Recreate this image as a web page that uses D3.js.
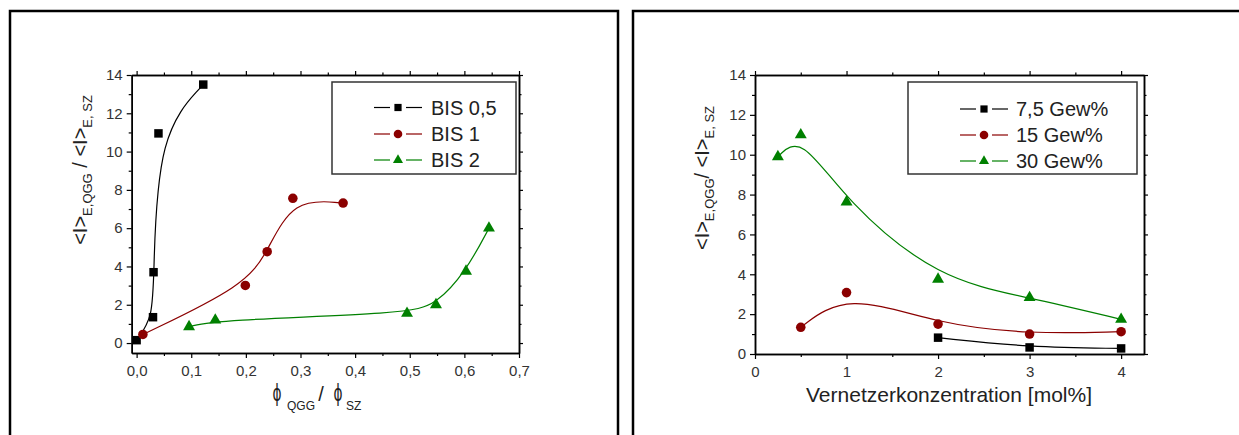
<!DOCTYPE html>
<html>
<head>
<meta charset="utf-8">
<script src="https://cdn.jsdelivr.net/npm/d3@7"></script>
<style>
  body { margin: 0; background: #fff; }
  svg { display: block; font-family: "Liberation Sans", Arial, sans-serif; }
</style>
</head>
<body>
<svg width="1239" height="435"></svg>
<script>
// left panel: <I> ratio vs phi_QGG / phi_SZ
const bis05X = [0.0, 0.03, 0.031, 0.04, 0.122];
const bis05Y = [0.15, 1.35, 3.7, 10.95, 13.5];
const bis1X = [0.0115, 0.199, 0.239, 0.286, 0.378];
const bis1Y = [0.45, 3.01, 4.77, 7.56, 7.31];
const bis2X = [0.096, 0.144, 0.495, 0.548, 0.603, 0.645];
const bis2Y = [0.85, 1.2, 1.55, 2.0, 3.75, 6.0];
const leftNames = ["BIS 0,5", "BIS 1", "BIS 2"];

// right panel: <I> ratio vs Vernetzerkonzentration
const gew75X = [2, 3, 4];
const gew75Y = [0.82, 0.33, 0.28];
const gew15X = [0.5, 1, 2, 3, 4];
const gew15Y = [1.34, 3.08, 1.5, 1.0, 1.12];
const gew30X = [0.25, 0.5, 1, 2, 3, 4];
const gew30Y = [9.9, 11.0, 7.63, 3.75, 2.83, 1.74];
const rightNames = ["7,5 Gew%", "15 Gew%", "30 Gew%"];

// ticks
const leftXTicks = [0, 0.1, 0.2, 0.3, 0.4, 0.5, 0.6, 0.7];
const leftXMinor = [0.05, 0.15, 0.25, 0.35, 0.45, 0.55, 0.65];
const rightXTicks = [0, 1, 2, 3, 4];
const rightXMinor = [0.5, 1.5, 2.5, 3.5];
const yTicks = [0, 2, 4, 6, 8, 10, 12, 14];
const yMinor = [1, 3, 5, 7, 9, 11, 13];

const colors = ["#000000", "#8b0000", "#008000"];
const symbols = [d3.symbolSquare, d3.symbolCircle, d3.symbolTriangle];
const markSize = [72, 72, 62];
const legendSize = [52, 58, 44];

const svg = d3.select("svg");
const font = "'Liberation Sans', Arial, sans-serif";
const comma = (d) => d3.format(".1f")(d).replace(".", ",");

// outer frames
svg.append("rect").attr("x", 10).attr("y", 11).attr("width", 608).attr("height", 460)
  .attr("fill", "none").attr("stroke", "#000").attr("stroke-width", 2.5);
svg.append("rect").attr("x", 633).attr("y", 11).attr("width", 640).attr("height", 460)
  .attr("fill", "none").attr("stroke", "#000").attr("stroke-width", 2.5);

const drawPanel = (p) => {
  const x = p.x, y = p.y;
  const [x0, x1] = x.range();
  const [y0, y1] = y.range();
  const g = svg.append("g");

  const styleAxis = (sel) => {
    sel.attr("font-family", font).attr("font-size", 15);
    sel.select(".domain").attr("stroke", "#000").attr("stroke-width", 1.5);
    sel.selectAll(".tick line").attr("stroke", "#000").attr("stroke-width", 1.2);
    sel.selectAll(".tick text").attr("fill", "#333");
  };

  // bottom axis
  g.append("g").attr("transform", `translate(0,${y0})`)
    .call(d3.axisBottom(x).tickValues(p.xTicks).tickFormat(p.xFormat)
      .tickSize(5).tickPadding(7).tickSizeOuter(0)).call(styleAxis);
  g.append("g").attr("transform", `translate(0,${y0})`)
    .call(d3.axisBottom(x).tickValues(p.xMinor).tickFormat("").tickSize(3).tickSizeOuter(0))
    .call(styleAxis);
  // top axis
  g.append("g").attr("transform", `translate(0,${y1})`)
    .call(d3.axisTop(x).tickValues(p.xTicks).tickFormat("").tickSize(4).tickSizeOuter(0)).call(styleAxis);
  g.append("g").attr("transform", `translate(0,${y1})`)
    .call(d3.axisTop(x).tickValues(p.xMinor).tickFormat("").tickSize(2.5).tickSizeOuter(0)).call(styleAxis);
  // left axis
  g.append("g").attr("transform", `translate(${x0},0)`)
    .call(d3.axisLeft(y).tickValues(yTicks).tickFormat(d3.format("d"))
      .tickSize(5).tickPadding(4).tickSizeOuter(0)).call(styleAxis);
  g.append("g").attr("transform", `translate(${x0},0)`)
    .call(d3.axisLeft(y).tickValues(yMinor).tickFormat("").tickSize(3).tickSizeOuter(0)).call(styleAxis);
  // right axis
  g.append("g").attr("transform", `translate(${x1},0)`)
    .call(d3.axisRight(y).tickValues(yTicks).tickFormat("").tickSize(4).tickSizeOuter(0)).call(styleAxis);
  g.append("g").attr("transform", `translate(${x1},0)`)
    .call(d3.axisRight(y).tickValues(yMinor).tickFormat("").tickSize(2.5).tickSizeOuter(0)).call(styleAxis);

  // curves and markers
  const line = d3.line().curve(d3.curveBasis).x((d) => x(d[0])).y((d) => y(d[1]));
  p.series.forEach((s, i) => {
    const pts = d3.zip(s.xs, s.ys);
    g.append("path").datum(pts).attr("d", line)
      .attr("fill", "none").attr("stroke", colors[i]).attr("stroke-width", 1.2);
    g.selectAll(null).data(pts).enter().append("path")
      .attr("d", d3.symbol().type(symbols[i]).size(markSize[i]))
      .attr("transform", (d) => `translate(${x(d[0])},${y(d[1])})`)
      .attr("fill", colors[i]);
  });

  // legend
  const L = p.legend;
  g.append("rect").attr("x", L.x).attr("y", L.y).attr("width", L.w).attr("height", L.h)
    .attr("fill", "#fff").attr("stroke", "#333").attr("stroke-width", 1.5);
  p.series.forEach((s, i) => {
    const cy = L.rowY[i];
    const row = g.append("g");
    row.append("line").attr("x1", L.mx - 24).attr("x2", L.mx - 8).attr("y1", cy).attr("y2", cy)
      .attr("stroke", colors[i]).attr("stroke-width", 1.2);
    row.append("line").attr("x1", L.mx + 8).attr("x2", L.mx + 24).attr("y1", cy).attr("y2", cy)
      .attr("stroke", colors[i]).attr("stroke-width", 1.2);
    row.append("path").attr("d", d3.symbol().type(symbols[i]).size(legendSize[i]))
      .attr("transform", `translate(${L.mx},${cy})`).attr("fill", colors[i]);
    row.append("text").attr("x", L.tx).attr("y", cy + 7).attr("font-size", 20)
      .attr("fill", "#222").text(s.name);
  });

  // y label
  const yl = svg.append("text").attr("transform", `translate(${p.yLabel.x},${p.yLabel.y}) rotate(-90)`)
    .attr("text-anchor", "middle").attr("fill", "#222").attr("font-size", 20);
  yl.append("tspan").text("<I>");
  yl.append("tspan").attr("font-size", 13).attr("dy", 5).text("E,QGG");
  yl.append("tspan").attr("dy", -5).text(p.yLabel.slash);
  yl.append("tspan").text("<I>");
  yl.append("tspan").attr("font-size", 13).attr("dy", 5).text("E, SZ");
};

// left panel
drawPanel({
  x: d3.scaleLinear().domain([-0.009, 0.7]).range([131.7, 519]),
  y: d3.scaleLinear().domain([-0.52, 14]).range([353, 75]),
  xTicks: leftXTicks, xMinor: leftXMinor, xFormat: comma,
  series: [
    { xs: bis05X, ys: bis05Y, name: leftNames[0] },
    { xs: bis1X, ys: bis1Y, name: leftNames[1] },
    { xs: bis2X, ys: bis2Y, name: leftNames[2] },
  ],
  legend: { x: 332, y: 82, w: 184, h: 92, mx: 398, tx: 431, rowY: [107.5, 134, 160] },
  yLabel: { x: 87, y: 170, slash: " / " },
});

// right panel
drawPanel({
  x: d3.scaleLinear().domain([0, 4.25]).range([755, 1144]),
  y: d3.scaleLinear().domain([0, 14]).range([354, 75]),
  xTicks: rightXTicks, xMinor: rightXMinor, xFormat: d3.format("d"),
  series: [
    { xs: gew75X, ys: gew75Y, name: rightNames[0] },
    { xs: gew15X, ys: gew15Y, name: rightNames[1] },
    { xs: gew30X, ys: gew30Y, name: rightNames[2] },
  ],
  legend: { x: 908, y: 82, w: 229, h: 92, mx: 984, tx: 1016, rowY: [109, 135, 161] },
  yLabel: { x: 709, y: 178, slash: "/ " },
});

// x label left: tall narrow phi glyphs with subscripts
const phi = (cx) => svg.append("text")
  .attr("transform", `translate(${cx},401) scale(0.72,1.2)`)
  .attr("text-anchor", "middle").attr("font-family", "'DejaVu Sans'").attr("font-size", 19)
  .attr("fill", "#222").text("\u03D5");
const sub = (sx, t) => svg.append("text").attr("x", sx).attr("y", 410)
  .attr("font-size", 12).attr("fill", "#222").text(t);
phi(277);
sub(287, "QGG");
svg.append("text").attr("x", 321).attr("y", 401).attr("text-anchor", "middle")
  .attr("font-size", 20).attr("fill", "#222").text("/");
phi(338);
sub(346, "SZ");

svg.append("text").attr("x", 949).attr("y", 402).attr("text-anchor", "middle")
  .attr("fill", "#222").attr("font-size", 21).text("Vernetzerkonzentration [mol%]");
</script>
</body>
</html>
